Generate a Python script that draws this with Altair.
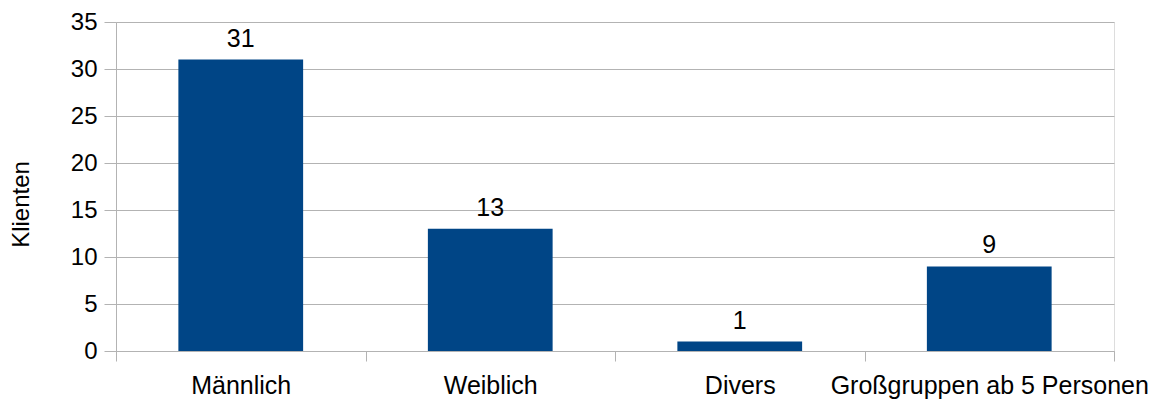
import altair as alt
import pandas as pd

categories = ["Männlich", "Weiblich", "Divers", "Großgruppen ab 5 Personen"]
values = [31, 13, 1, 9]

df = pd.DataFrame({"Kategorie": categories, "Klienten": values})

FONT = "Liberation Sans"
GRID = "#b3b3b3"

x = alt.X(
    "Kategorie:N",
    sort=categories,
    title=None,
    scale=alt.Scale(paddingInner=0, paddingOuter=0),
    axis=alt.Axis(
        labelAngle=0,
        labelFont=FONT,
        labelFontSize=25,
        labelColor="#000000",
        labelPadding=12,
        labelLimit=0,
        tickBand="extent",
        tickSize=10,
        tickColor=GRID,
        domainColor=GRID,
        grid=False,
        labelOverlap=False,
    ),
)

y = alt.Y(
    "Klienten:Q",
    scale=alt.Scale(domain=[0, 35], nice=False),
    axis=alt.Axis(
        values=[0, 5, 10, 15, 20, 25, 30, 35],
        title="Klienten",
        titleFont=FONT,
        titleFontSize=24,
        titleFontWeight="normal",
        titleColor="#000000",
        titleAngle=-90,
        titleX=-95,
        titleY=182,
        titleAlign="center",
        titleBaseline="middle",
        labelFont=FONT,
        labelFontSize=24,
        labelColor="#000000",
        labelPadding=7,
        tickSize=12,
        tickColor=GRID,
        domainColor=GRID,
        gridColor=GRID,
        gridWidth=1,
    ),
)

bars = alt.Chart(df).mark_bar(color="#004586", width={"band": 0.5}).encode(x=x, y=y)

labels = alt.Chart(df).mark_text(
    font=FONT, fontSize=25, color="#000000", baseline="alphabetic", dy=-13
).encode(
    x=alt.X("Kategorie:N", sort=categories),
    y=alt.Y("Klienten:Q"),
    text=alt.Text("Klienten:Q"),
)

chart = (
    alt.layer(bars, labels)
    .properties(
        width=998,
        height=329,
        autosize=alt.AutoSizeParams(type="none"),
        padding={"left": 116, "top": 22, "right": 50, "bottom": 52},
    )
    .configure_view(stroke=None)
    .configure(background="#ffffff")
)

chart.save("out.html", embed_options={"renderer": "svg", "actions": False})
